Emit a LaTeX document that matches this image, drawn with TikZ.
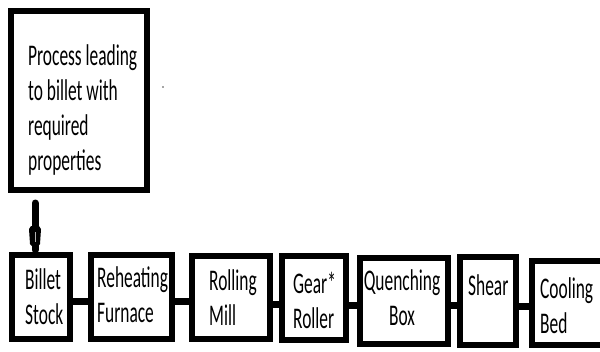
\documentclass[tikz,border=0pt]{standalone}
\usepackage{fontspec}
\setmainfont{Carlito}
\usepackage{graphicx}
\newcommand{\sqtxt}[2]{\scalebox{0.58}[1]{\begin{tabular}[t]{@{}#1@{}}#2\end{tabular}}}
\begin{document}
\begin{tikzpicture}[x=1pt,y=-1pt,
  blk/.style={draw=black,line width=6pt,fill=white,inner sep=0pt,rectangle},
  conn/.style={line width=7pt,black},
  lbl/.style={inner sep=0pt,font=\fontsize{30}{35}\selectfont,text=black}]
\useasboundingbox (0,0) rectangle (600,351);
\fill[white] (0,0) rectangle (600,351);
\coordinate (vtop) at (35,203);
% boxes
\node[blk,minimum width=136pt,minimum height=179pt] (top) at (79,100.5) {};
\node[blk,minimum width=58pt,minimum height=84pt] (billet) at (41,297) {};
\node[blk,minimum width=81pt,minimum height=84pt] (reheat) at (131.5,297) {};
\node[blk,minimum width=78pt,minimum height=83pt] (rolling) at (231,297.5) {};
\node[blk,minimum width=64pt,minimum height=84pt] (gear) at (314,298) {};
\node[blk,minimum width=88pt,minimum height=86pt] (quench) at (404,301) {};
\node[blk,minimum width=56pt,minimum height=88pt] (shear) at (488,301) {};
\node[blk,minimum width=71pt,minimum height=84pt] (cooling) at (567.5,303) {};
% horizontal connectors
\draw[conn] ([yshift=-4pt]billet.east) -- ([yshift=-4pt]billet.east -| reheat.west);
\draw[conn] ([yshift=-4pt]reheat.east) -- ([yshift=-4pt]reheat.east -| rolling.west);
\draw[conn] ([yshift=-6.5pt]rolling.east) -- ([yshift=-6.5pt]rolling.east -| gear.west);
\draw[conn] ([yshift=-7pt]gear.east) -- ([yshift=-7pt]gear.east -| quench.west);
\draw[conn] ([yshift=-4pt]quench.east) -- ([yshift=-4pt]quench.east -| shear.west);
\draw[conn] ([yshift=-5pt]shear.east) -- ([yshift=-5pt]shear.east -| cooling.west);
% vertical connector
\draw[line width=7pt,line cap=round] (vtop) -- ([yshift=2pt]vtop |- billet.north);
\fill[black] (29,229) -- (31,226) -- (39,226) -- (41,229) -- (40,244) -- (38,246) -- (32,246) -- (30,244) -- cycle;
\draw[gray!60,line width=0.8pt] (35,232) -- (35,242);
% stray dot
\fill[gray!70] (162,86) rectangle (164,88);
% labels
\node[lbl,anchor=base west] (ttop) at (28,65) {\sqtxt{l}{Process leading\\to billet with\\required\\properties}};
\node[lbl,anchor=base west] (tbillet) at (25,289) {\sqtxt{l}{Billet\\Stock}};
\node[lbl,anchor=base west] (treheat) at (97,287) {\sqtxt{l}{Reheating\\Furnace}};
\node[lbl,anchor=base west] (trolling) at (209,290) {\sqtxt{l}{Rolling\\Mill}};
\node[lbl,anchor=base west] (tgear) at (293,293) {\sqtxt{l}{Gear*\\Roller}};
\node[lbl,anchor=base] (tquench) at (402,290) {\sqtxt{c}{Quenching\\Box}};
\node[lbl,anchor=base west] (tshear) at (468,295) {\sqtxt{l}{Shear}};
\node[lbl,anchor=base west] (tcooling) at (540,298) {\sqtxt{l}{Cooling\\Bed}};
\end{tikzpicture}
\end{document}
